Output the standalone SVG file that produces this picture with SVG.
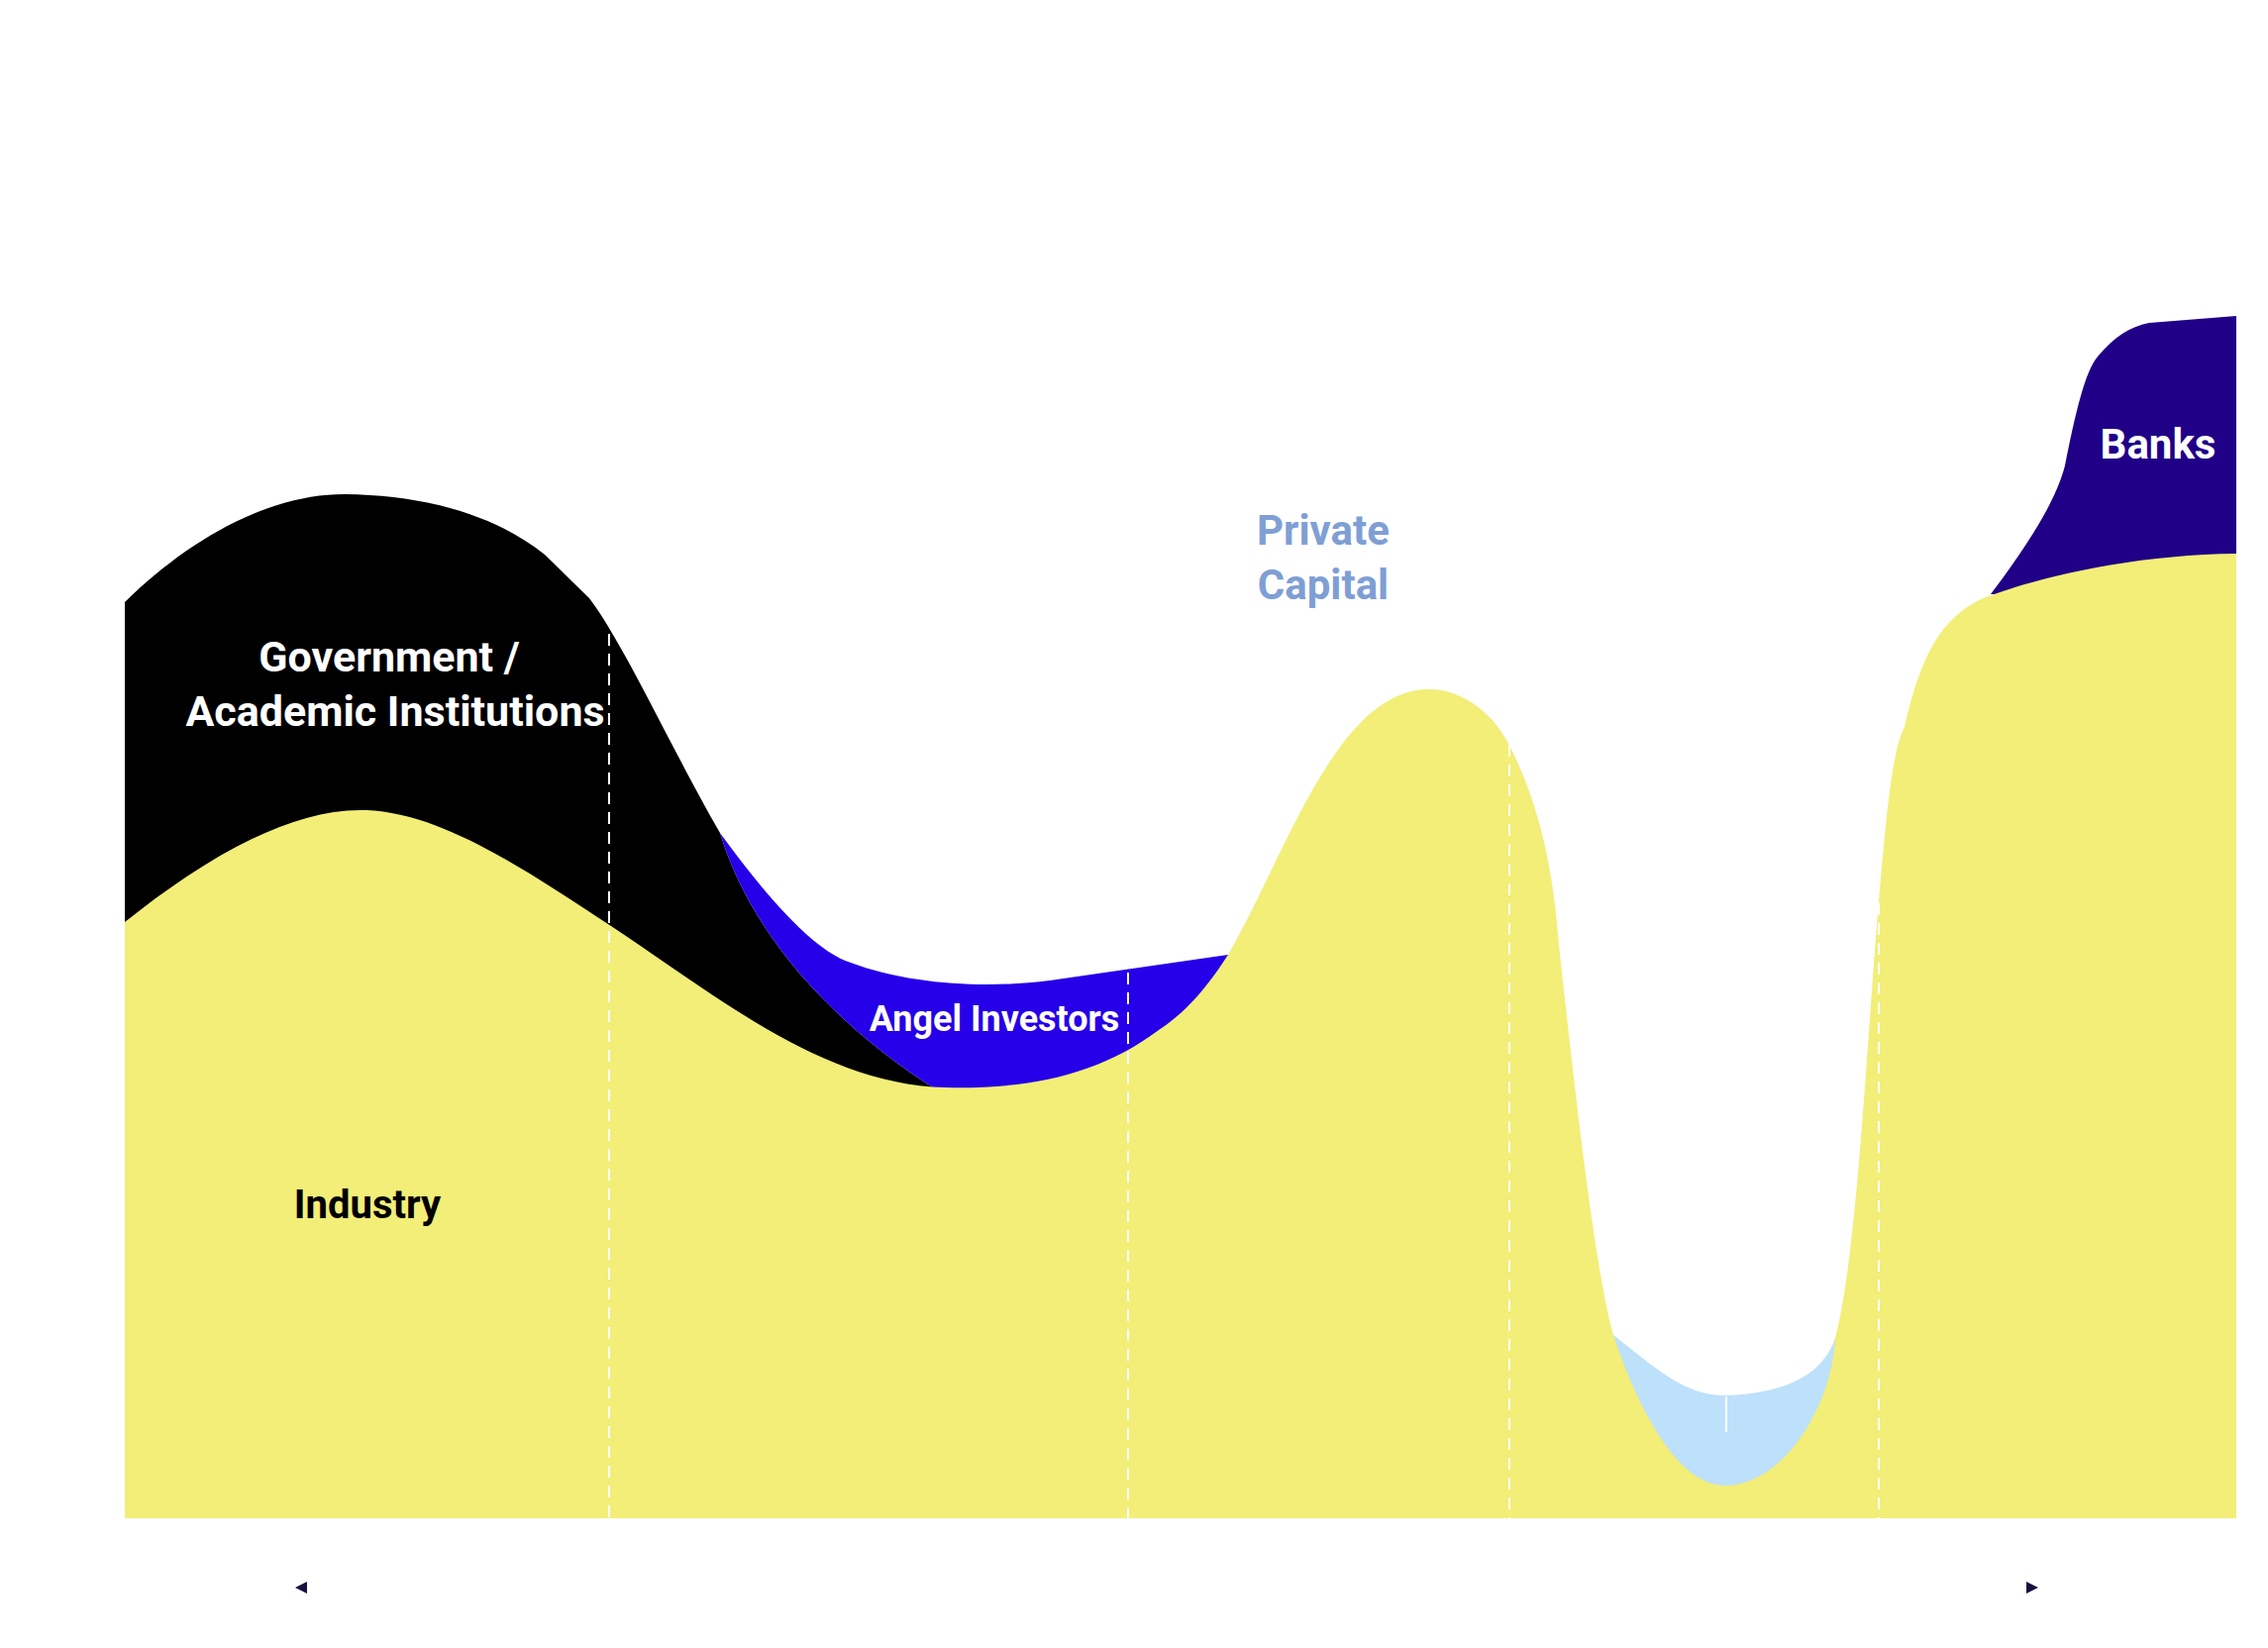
<svg xmlns="http://www.w3.org/2000/svg" width="2290" height="1664" viewBox="0 0 2290 1664">
<style>
.t{font-family:Roboto,"Liberation Sans",sans-serif;font-weight:bold;text-anchor:middle}
.d{stroke:#fff;stroke-width:2;stroke-dasharray:12,8;fill:none}
</style>
<rect width="2290" height="1664" fill="#fff"/>
<g id="government"><path d="M126,608 C190,545 270,499 348,499 C430,500 500,520 550,560 L595,604 C630,650 680,760 727,841 C760,950 850,1040 945,1100 L126,1100 Z" fill="#000"/></g>
<g id="angel"><path d="M727,841 C770,900 820,960 859,972 C920,995 1000,998 1060,990 L1240,964 L1240,1110 L945,1100 C850,1040 760,950 727,841 Z" fill="#2600e8"/></g>
<g id="lightblue"><path d="M1629,1348 C1670,1380 1700,1409 1742,1409 C1800,1407 1840,1390 1853,1351 L1853,1520 L1629,1520 Z" fill="#bde0fb"/></g>
<g id="banks"><path d="M2010,600 C2040,560 2075,510 2085,470 C2095,420 2105,375 2118,360 C2135,340 2150,330 2170,326 L2258,319 L2258,600 Z" fill="#200087"/></g>
<g id="industry"><path d="M126,931 C200,872 290,815 370,818 C450,821 540,885 617,935 C720,1003 830,1095 954,1098 C1040,1100 1110,1085 1170,1040 C1200,1020 1220,995 1240,964 C1300,860 1350,696 1443,696 C1480,696 1510,725 1522,749 C1560,820 1570,900 1574,954 C1590,1100 1610,1280 1629,1348 C1660,1440 1700,1500 1742,1500 C1800,1500 1850,1420 1853,1351 C1875,1270 1885,1050 1897,910 C1905,820 1910,760 1923,734 C1940,660 1960,625 2000,605 C2050,585 2150,560 2258,559 L2258,1533 L126,1533 Z" fill="#f2ee78"/></g>
<g id="connectors">
<line class="d" x1="615" y1="620" x2="615" y2="1533"/>
<line class="d" x1="1139" y1="982" x2="1139" y2="1533"/>
<line class="d" x1="1524" y1="752" x2="1524" y2="1533"/>
<line class="d" x1="1897" y1="912" x2="1897" y2="1533"/>
<line x1="1743" y1="1410" x2="1743" y2="1446" stroke="#fff" stroke-width="2"/>
<path d="M298,1603 L310,1597 L310,1609 Z" fill="#1a1040"/>
<path d="M2058,1603 L2046,1597 L2046,1609 Z" fill="#1a1040"/>
</g>
<g id="labels">
<text class="t" x="393" y="678" font-size="43" fill="#fff">Government /</text>
<text class="t" x="399" y="733" font-size="43" fill="#fff">Academic Institutions</text>
<text class="t" x="371" y="1230" font-size="40" fill="#000">Industry</text>
<text class="t" x="1004" y="1041" font-size="36" fill="#fff">Angel Investors</text>
<text class="t" x="1336" y="550" font-size="42" fill="#7f9fd4">Private</text>
<text class="t" x="1336" y="605" font-size="42" fill="#7f9fd4">Capital</text>
<text class="t" x="2179" y="463" font-size="42" fill="#fff">Banks</text>
</g>
</svg>
